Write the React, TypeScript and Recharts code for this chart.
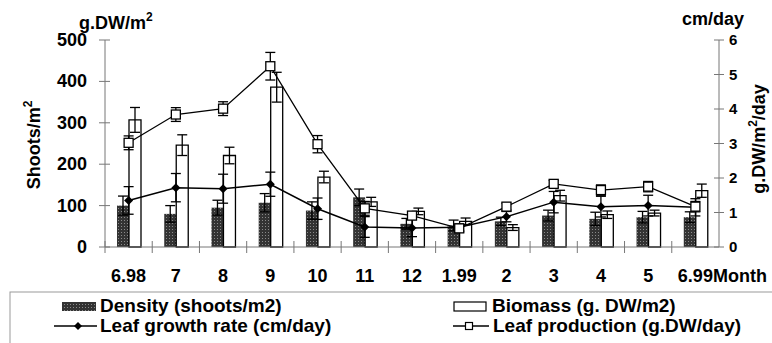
import React from "react";
import { ComposedChart, Bar, Line, XAxis, YAxis, ErrorBar } from "recharts";

const months = ["6.98", "7", "8", "9", "10", "11", "12", "1.99", "2", "3", "4", "5", "6.99"];
const density = [100, 80, 95, 107, 88, 120, 56, 52, 62, 76, 68, 72, 72];
const densityErr = [23, 20, 18, 22, 21, 20, 13, 13, 10, 13, 16, 14, 13];
const biomass = [307, 246, 221, 386, 169, 109, 86, 62, 47, 124, 78, 82, 136];
const biomassErr = [30, 25, 20, 36, 14, 11, 8, 8, 7, 13, 9, 7, 16];
const growth = [1.35, 1.72, 1.69, 1.82, 1.11, 0.58, 0.55, 0.57, 0.88, 1.3, 1.17, 1.2, 1.15];
const growthErr = [0.4, 0.41, 0.42, 0.35, 0.31, 0.3, 0.25, 0.1, 0.15, 0.31, 0.3, 0.3, 0.25];
const production = [3.02, 3.84, 4.01, 5.24, 2.98, 1.12, 0.91, 0.54, 1.17, 1.83, 1.65, 1.75, 1.17];
const productionErr = [0.2, 0.2, 0.2, 0.4, 0.25, 0.2, 0.1, 0.1, 0.1, 0.1, 0.15, 0.15, 0.15];
const leftTicks = [0, 100, 200, 300, 400, 500];
const rightTicks = [0, 1, 2, 3, 4, 5, 6];

const W = 772;
const H = 343;
const PLOT_L = 105;
const PLOT_R = 719;
const BAND = (PLOT_R - PLOT_L) / months.length;
const FONT = "'Liberation Sans', Arial, sans-serif";
const AXIS = "#777";

const data = months.map((m, i) => ({
  month: m,
  density: density[i],
  densityErr: densityErr[i],
  biomass: biomass[i],
  biomassErr: biomassErr[i],
  growth: growth[i],
  growthErr: growthErr[i],
  production: production[i],
  productionErr: productionErr[i],
}));

function XTick({ x, y, payload }: any) {
  return (
    <g>
      <line x1={x - BAND / 2} x2={x - BAND / 2} y1={y - 6} y2={y + 6} stroke={AXIS} />
      <text x={x} y={y + 35} textAnchor="middle" fontFamily={FONT} fontWeight="bold" fontSize={18} fill="#000">
        {payload.value}
      </text>
    </g>
  );
}

function LeftTick({ x, y, payload }: any) {
  return (
    <g>
      <line x1={x - 6} x2={x + 5} y1={y} y2={y} stroke={AXIS} />
      <text x={x - 18} y={y + 6} textAnchor="end" fontFamily={FONT} fontWeight="bold" fontSize={18} fill="#000">
        {payload.value}
      </text>
    </g>
  );
}

function RightTick({ x, y, payload }: any) {
  return (
    <g>
      <line x1={x - 5} x2={x + 5} y1={y} y2={y} stroke={AXIS} />
      <text x={x + 10} y={y + 5} textAnchor="start" fontFamily={FONT} fontWeight="bold" fontSize={15} fill="#000">
        {payload.value}
      </text>
    </g>
  );
}

const Diamond = ({ cx, cy }: any) =>
  cx == null ? null : (
    <polygon points={`${cx},${cy - 4.5} ${cx + 4.5},${cy} ${cx},${cy + 4.5} ${cx - 4.5},${cy}`} fill="#000" />
  );

const Square = ({ cx, cy }: any) =>
  cx == null ? null : (
    <rect x={cx - 4.5} y={cy - 4.5} width={9} height={9} fill="#fff" stroke="#000" strokeWidth={1.3} />
  );

export default function App() {
  const txt = { fontFamily: FONT, fontWeight: "bold" as const, fill: "#000" };
  return (
    <div style={{ position: "absolute", left: 0, top: 0, width: W, height: H, background: "#fff" }}>
      <ComposedChart
        width={W}
        height={H}
        data={data}
        margin={{ top: 40, right: 13, left: 45, bottom: 56 }}
        barGap={0}
      >
        <defs>
          <pattern id="stipple" width="3" height="3" patternUnits="userSpaceOnUse">
            <rect width="3" height="3" fill="#333" />
            <rect x="1" y="1" width="1" height="1" fill="#8a8a8a" />
          </pattern>
        </defs>
        <XAxis
          dataKey="month"
          height={40}
          tickLine={false}
          tickSize={0}
          tickMargin={0}
          axisLine={{ stroke: AXIS }}
          tick={<XTick />}
          interval={0}
        />
        <YAxis
          yAxisId="left"
          width={60}
          domain={[0, 500]}
          ticks={leftTicks}
          tickLine={false}
          tickSize={0}
          tickMargin={0}
          axisLine={{ stroke: AXIS }}
          tick={<LeftTick />}
        />
        <YAxis
          yAxisId="right"
          orientation="right"
          width={40}
          domain={[0, 6]}
          ticks={rightTicks}
          tickLine={false}
          tickSize={0}
          tickMargin={0}
          axisLine={{ stroke: AXIS }}
          tick={<RightTick />}
        />
        <Bar yAxisId="left" dataKey="density" barSize={12} fill="url(#stipple)" isAnimationActive={false}>
          <ErrorBar dataKey="densityErr" width={5} stroke="#000" strokeWidth={1.3} direction="y" />
        </Bar>
        <Bar yAxisId="left" dataKey="biomass" barSize={12} fill="#fff" stroke="#000" strokeWidth={1.3} isAnimationActive={false}>
          <ErrorBar dataKey="biomassErr" width={5} stroke="#000" strokeWidth={1.3} direction="y" />
        </Bar>
        <Line
          yAxisId="right"
          dataKey="growth"
          stroke="#000"
          strokeWidth={1.5}
          dot={<Diamond />}
          activeDot={false}
          isAnimationActive={false}
        >
          <ErrorBar dataKey="growthErr" width={5} stroke="#000" strokeWidth={1.3} direction="y" />
        </Line>
        <Line
          yAxisId="right"
          dataKey="production"
          stroke="#000"
          strokeWidth={1.3}
          dot={<Square />}
          activeDot={false}
          isAnimationActive={false}
        >
          <ErrorBar dataKey="productionErr" width={5} stroke="#000" strokeWidth={1.3} direction="y" />
        </Line>
      </ComposedChart>

      <svg width={W} height={H} style={{ position: "absolute", left: 0, top: 0, pointerEvents: "none" }}>
        {/* axis titles */}
        <text x={79} y={29} fontSize={18} {...txt}>
          g.DW/m<tspan fontSize={12} dy={-8}>2</tspan>
        </text>
        <text x={682} y={25} fontSize={18} {...txt}>cm/day</text>
        <text x={713} y={282} fontSize={18} {...txt}>Month</text>
        <text transform="translate(40,145) rotate(-90)" textAnchor="middle" fontSize={18} {...txt}>
          Shoots/m<tspan fontSize={12} dy={-8}>2</tspan>
        </text>
        <text transform="translate(765,139) rotate(-90)" textAnchor="middle" fontSize={18} {...txt}>
          g.DW/m<tspan fontSize={12} dy={-8}>2</tspan>
          <tspan dy={8}>/day</tspan>
        </text>

        {/* legend */}
        <rect x={10} y={292} width={780} height={60} fill="none" stroke="#999" strokeWidth={1} />
        <rect x={62} y={302} width={34} height={9} fill="url(#stipple)" />
        <text x={100} y={312} fontSize={19} {...txt}>Density (shoots/m2)</text>
        <rect x={454} y={302} width={32} height={9} fill="#fff" stroke="#000" strokeWidth={1.2} />
        <text x={492} y={312} fontSize={19} {...txt}>Biomass (g. DW/m2)</text>
        <line x1={54} x2={97} y1={326} y2={326} stroke="#000" strokeWidth={1.5} />
        <polygon points="78,322 82,326 78,330 74,326" fill="#000" />
        <text x={100} y={332} fontSize={19} {...txt}>Leaf growth rate (cm/day)</text>
        <line x1={453} x2={489} y1={326} y2={326} stroke="#000" strokeWidth={1.3} />
        <rect x={465.5} y={322.5} width={7} height={7} fill="#fff" stroke="#000" strokeWidth={1.2} />
        <text x={493} y={332} fontSize={19} {...txt}>Leaf production (g.DW/day)</text>
      </svg>
    </div>
  );
}
